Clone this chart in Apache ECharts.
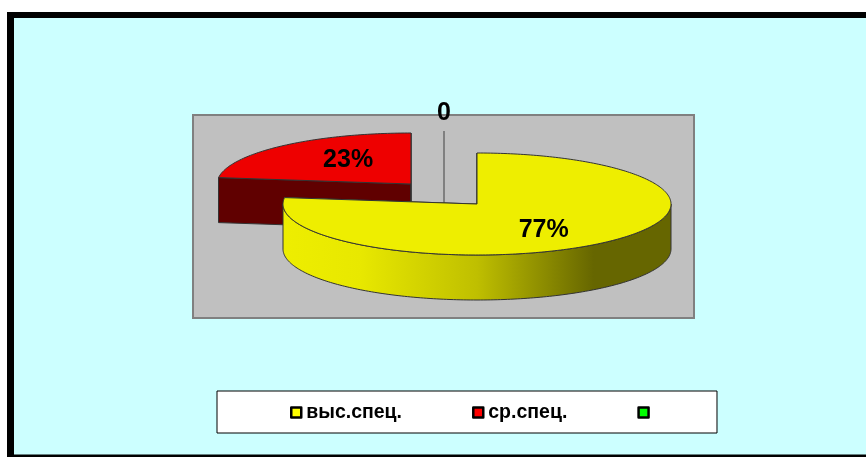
<!DOCTYPE html>
<html>
<head>
<meta charset="utf-8">
<style>html,body{margin:0;padding:0;background:#fff}#c{width:866px;height:457px}</style>
<script src="https://cdn.jsdelivr.net/npm/echarts@6/dist/echarts.min.js"></script>
</head>
<body>
<div id="c"></div>
<script>
var categories = ['выс.спец.', 'ср.спец.', ' '];
var values = [77, 23, 0];
var labelTexts = ['77%', '23%', '0'];

var FONT = '"Liberation Sans", Arial, sans-serif';
var total = values.reduce(function (a, b) { return a + b; }, 0);
var rx = 194, ry = 51, depth = 45;
var centers = [[477, 204], [411, 184], [444, 182]];
var labelFrac = [[0.52, 0.69], [0.49, 0.63], [0, 1.35]];
var legendColors = ['#FFFF00', '#FF0000', '#00FF00'];
var topColors = ['#EEEE00', '#EE0000', '#808080'];
var sideColors = [
  { type: 'linear', x: 0, y: 0, x2: 1, y2: 0, colorStops: [
    { offset: 0, color: '#EEEE00' }, { offset: 0.2, color: '#E8E800' },
    { offset: 0.5, color: '#BFBF00' }, { offset: 0.8, color: '#666600' }, { offset: 1, color: '#666600' }] },
  '#600000', '#808080'
];
var stroke = '#333333';

function pt(c, t, d) {
  return [c[0] + rx * Math.sin(t), c[1] - ry * Math.cos(t) + (d || 0)];
}
function arc(c, a, b, d) {
  var pts = [], n = Math.max(1, Math.ceil(Math.abs(b - a) / (Math.PI / 180)));
  for (var i = 0; i <= n; i++) pts.push(pt(c, a + (b - a) * i / n, d));
  return pts;
}
function poly(points, fill, z2, s) {
  return { type: 'polygon', z2: z2, shape: { points: points },
    style: { fill: fill, stroke: s || stroke, lineWidth: 1 } };
}
function makeRender(idx) {
  return function () {
    var before = 0;
    for (var i = 0; i < idx; i++) before += values[i];
    var a = before / total * 2 * Math.PI;
    var b = (before + values[idx]) / total * 2 * Math.PI;
    var c = centers[idx], kids = [], mid = (a + b) / 2;
    if (values[idx] === 0) {
      var top = pt(c, a, 0);
      kids.push({ type: 'line', z2: 1, shape: { x1: top[0], y1: top[1], x2: c[0], y2: c[1] + depth },
        style: { stroke: topColors[idx], lineWidth: 2 } });
    } else {
      [a, b].forEach(function (t) {
        var p = pt(c, t, 0);
        var q = pt(c, t, depth);
        kids.push(poly([p, [c[0], c[1]], [c[0], c[1] + depth], q], typeof sideColors[idx] === 'string' ? sideColors[idx] : '#666600', 1));
      });
      var fa = Math.max(a, Math.PI / 2), fb = Math.min(b, Math.PI * 1.5);
      if (fb > fa) {
        var up = arc(c, fa, fb, 0), low = arc(c, fb, fa, depth);
        kids.push(poly(up.concat(low), sideColors[idx], 2));
      }
      kids.push(poly([[c[0], c[1]]].concat(arc(c, a, b, 0)), topColors[idx], 3));
    }
    var f = labelFrac[idx];
    kids.push({ type: 'text', z2: 5, style: {
      text: labelTexts[idx],
      x: c[0] + rx * f[0] * Math.sin(mid) ,
      y: c[1] - ry * f[1] * Math.cos(mid),
      align: 'center', verticalAlign: 'middle',
      font: 'bold 25px ' + FONT, fill: '#000' } });
    return { type: 'group', children: kids };
  };
}

var chart = echarts.init(document.getElementById('c'), null, { renderer: 'canvas' });
var seriesOrderZ = [5, 4, 3];
chart.setOption({
  animation: false,
  backgroundColor: '#fff',
  graphic: [
    { type: 'rect', z: 0, silent: true, shape: { x: 7, y: 12, width: 900, height: 460 }, style: { fill: '#000' } },
    { type: 'rect', z: 1, silent: true, shape: { x: 14, y: 18, width: 900, height: 436.5 }, style: { fill: '#CCFFFF' } },
    { type: 'rect', z: 1, silent: true, shape: { x: 193, y: 115, width: 501, height: 203 }, style: { fill: '#C0C0C0', stroke: '#808080', lineWidth: 2 } }
  ],
  legend: {
    data: categories,
    left: 217, top: 391,
    orient: 'horizontal',
    padding: [11.5, 58, 10.5, 73],
    itemGap: 70,
    itemWidth: 10, itemHeight: 10,
    icon: 'rect',
    selectedMode: false,
    backgroundColor: '#fff',
    borderColor: '#000',
    borderWidth: 1,
    itemStyle: { borderColor: '#000', borderWidth: 2.5, borderJoin: 'round' },
    textStyle: { fontFamily: FONT, fontWeight: 'bold', fontSize: 19.5, color: '#000' }
  },
  series: categories.map(function (name, i) {
    return {
      type: 'custom',
      name: name,
      coordinateSystem: 'none',
      silent: true,
      z: seriesOrderZ[i],
      itemStyle: { color: legendColors[i] },
      renderItem: makeRender(i),
      data: [{ name: name, value: values[i] }]
    };
  })
});
</script>
</body>
</html>
